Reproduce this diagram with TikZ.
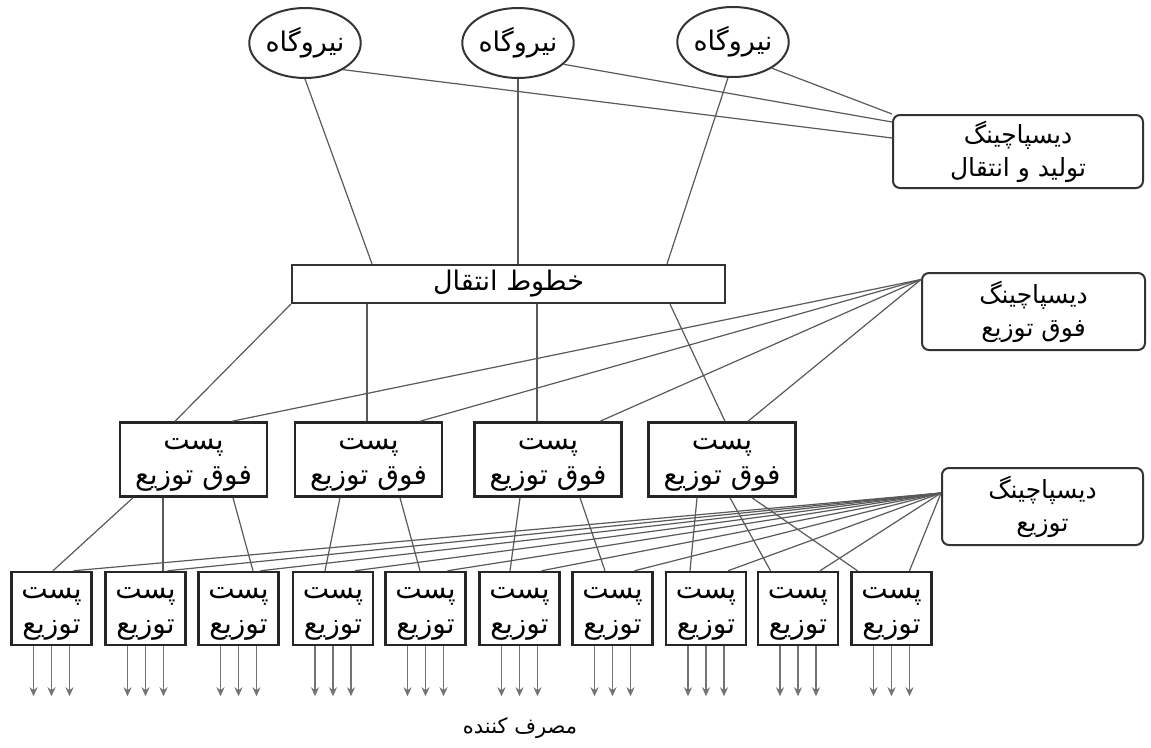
\documentclass[tikz,border=0pt]{standalone}
\usepackage{fontspec}
\newfontfamily\arabicfont[Script=Arabic]{DejaVu Sans}
\TeXXeTstate=1
\usetikzlibrary{arrows.meta,shapes.geometric}
\newcommand{\rtltext}[1]{\beginR #1\endR}
\newcommand{\twolines}[2]{\begin{tabular}{@{}c@{}}#1\\#2\end{tabular}}
\tikzset{
  plant/.style={ellipse, draw=black!80, line width=2pt, fill=white, minimum width=94pt, minimum height=70pt, inner sep=0pt, font=\arabicfont\fontsize{27}{30}\selectfont},
  dispatch/.style={rectangle, rounded corners=7pt, draw=black!80, line width=2pt, fill=white, align=center, inner sep=0pt, font=\arabicfont\fontsize{25}{33}\selectfont},
  trans/.style={rectangle, draw=black!80, line width=2.2pt, fill=white, minimum width=433pt, minimum height=38pt, inner sep=0pt, font=\arabicfont\fontsize{27}{30}\selectfont},
  hvsub/.style={rectangle, draw=black!85, line width=2.5pt, fill=white, minimum width=147pt, minimum height=74pt, inner sep=0pt, font=\arabicfont\fontsize{28}{35}\selectfont},
  dsub/.style={rectangle, draw=black!85, line width=2.5pt, fill=white, minimum width=80pt, minimum height=73pt, inner sep=0pt, font=\arabicfont\fontsize{28}{35}\selectfont},
  conn/.style={draw=black!65, line width=1.2pt},
  feed/.style={draw=black!55, line width=1.6pt, -{Stealth[length=9pt,width=8pt]}}
}
\begin{document}
\begin{tikzpicture}[x=1pt,y=-1pt]
\useasboundingbox (0,0) rectangle (1151,747);
% power plants
\node[plant] (pp1) at (305,43) {\rtltext{نیروگاه}};
\node[plant] (pp2) at (518,43) {\rtltext{نیروگاه}};
\node[plant] (pp3) at (733,42) {\rtltext{نیروگاه}};
% dispatching centres
\node[dispatch, minimum width=250pt, minimum height=73pt] (dsp1) at (1018,151.5) {\rtltext{دیسپاچینگ}\\\rtltext{تولید و انتقال}};
\node[dispatch, minimum width=223pt, minimum height=77pt] (dsp2) at (1033.5,311.5) {\rtltext{دیسپاچینگ}\\\rtltext{فوق توزیع}};
\node[dispatch, minimum width=201pt, minimum height=77pt] (dsp3) at (1042.5,506.5) {\rtltext{دیسپاچینگ}\\\rtltext{توزیع}};
% transmission lines
\node[trans] (tl) at (508.5,284) {\rtltext{خطوط انتقال}};
% sub-transmission substations
\node[hvsub] (ss1) at (193.5,459.5) {\twolines{\rtltext{پست}}{\rtltext{فوق توزیع}}};
\node[hvsub] (ss2) at (368.5,459.5) {\twolines{\rtltext{پست}}{\rtltext{فوق توزیع}}};
\node[hvsub] (ss3) at (548,459.5) {\twolines{\rtltext{پست}}{\rtltext{فوق توزیع}}};
\node[hvsub] (ss4) at (722,459.5) {\twolines{\rtltext{پست}}{\rtltext{فوق توزیع}}};
% distribution substations
\node[dsub] (d1) at (51.5,608.5) {\twolines{\rtltext{پست}}{\rtltext{توزیع}}};
\node[dsub] (d2) at (145.5,608.5) {\twolines{\rtltext{پست}}{\rtltext{توزیع}}};
\node[dsub] (d3) at (238.5,608.5) {\twolines{\rtltext{پست}}{\rtltext{توزیع}}};
\node[dsub] (d4) at (333,608.5) {\twolines{\rtltext{پست}}{\rtltext{توزیع}}};
\node[dsub] (d5) at (425.5,608.5) {\twolines{\rtltext{پست}}{\rtltext{توزیع}}};
\node[dsub] (d6) at (519.5,608.5) {\twolines{\rtltext{پست}}{\rtltext{توزیع}}};
\node[dsub] (d7) at (612.5,608.5) {\twolines{\rtltext{پست}}{\rtltext{توزیع}}};
\node[dsub] (d8) at (706,608.5) {\twolines{\rtltext{پست}}{\rtltext{توزیع}}};
\node[dsub] (d9) at (798,608.5) {\twolines{\rtltext{پست}}{\rtltext{توزیع}}};
\node[dsub] (d10) at (891.5,608.5) {\twolines{\rtltext{پست}}{\rtltext{توزیع}}};
\node[font=\arabicfont\fontsize{21}{24}\selectfont] (cons) at (520,728) {\rtltext{مصرف کننده}};
% plants to lines and dispatching
\draw[conn] (pp1.south) -- ([xshift=-136.5]tl.north);
\draw[conn] (pp2.south) -- (tl.north -| pp2.south);
\draw[conn] (pp3.262) -- ([xshift=158.5]tl.north);
\draw[conn] (pp1.-35) -- ([yshift=13.5]dsp1.west);
\draw[conn] (pp2.-25) -- ([yshift=29.5]dsp1.west);
\draw[conn] (pp3.-34) -- (dsp1.north west);
% lines to substations
\draw[conn] (tl.south west) -- ([xshift=-18.5]ss1.north);
\draw[conn] ([xshift=-141.5]tl.south) -- ([xshift=-1.5]ss2.north);
\draw[conn] ([xshift=28.5]tl.south) -- ([xshift=-11]ss3.north);
\draw[conn] ([xshift=161.5]tl.south) -- ([xshift=3]ss4.north);
\draw[conn] ([yshift=32]dsp2.west) -- ([xshift=38.5]ss1.north);
\draw[conn] ([yshift=32]dsp2.west) -- ([xshift=51.5]ss2.north);
\draw[conn] ([yshift=32]dsp2.west) -- ([xshift=52]ss3.north);
\draw[conn] ([yshift=32]dsp2.west) -- ([xshift=26]ss4.north);
% substations to distribution
\draw[conn] ([xshift=-60.5]ss1.south) -- ([xshift=1.5]d1.north);
\draw[conn] ([xshift=-30.5]ss1.south) -- ([xshift=17.5]d2.north);
\draw[conn] ([xshift=39.5]ss1.south) -- ([xshift=14.5]d3.north);
\draw[conn] ([xshift=-28.5]ss2.south) -- ([xshift=-8]d4.north);
\draw[conn] ([xshift=31.5]ss2.south) -- ([xshift=-5.5]d5.north);
\draw[conn] ([xshift=-28]ss3.south) -- ([xshift=-9.5]d6.north);
\draw[conn] ([xshift=32]ss3.south) -- ([xshift=-7.5]d7.north);
\draw[conn] ([xshift=-25]ss4.south) -- ([xshift=-16]d8.north);
\draw[conn] ([xshift=8]ss4.south) -- ([xshift=-27.5]d9.north);
\draw[conn] ([xshift=30]ss4.south) -- ([xshift=-34]d10.north);
% distribution dispatching
\draw[conn] ([yshift=13.5]dsp3.west) -- ([xshift=22]d1.north);
\draw[conn] ([yshift=13.5]dsp3.west) -- ([xshift=22]d2.north);
\draw[conn] ([yshift=13.5]dsp3.west) -- ([xshift=22]d3.north);
\draw[conn] ([yshift=13.5]dsp3.west) -- ([xshift=22]d4.north);
\draw[conn] ([yshift=13.5]dsp3.west) -- ([xshift=22]d5.north);
\draw[conn] ([yshift=13.5]dsp3.west) -- ([xshift=22]d6.north);
\draw[conn] ([yshift=13.5]dsp3.west) -- ([xshift=22]d7.north);
\draw[conn] ([yshift=13.5]dsp3.west) -- ([xshift=22]d8.north);
\draw[conn] ([yshift=13.5]dsp3.west) -- ([xshift=22]d9.north);
\draw[conn] ([yshift=13.5]dsp3.west) -- ([xshift=18]d10.north);
% feeders to consumers
\draw[feed] ([xshift=-18]d1.south) -- ++(0,50); \draw[feed] (d1.south) -- ++(0,50); \draw[feed] ([xshift=18]d1.south) -- ++(0,50);
\draw[feed] ([xshift=-18]d2.south) -- ++(0,50); \draw[feed] (d2.south) -- ++(0,50); \draw[feed] ([xshift=18]d2.south) -- ++(0,50);
\draw[feed] ([xshift=-18]d3.south) -- ++(0,50); \draw[feed] (d3.south) -- ++(0,50); \draw[feed] ([xshift=18]d3.south) -- ++(0,50);
\draw[feed] ([xshift=-18]d4.south) -- ++(0,50); \draw[feed] (d4.south) -- ++(0,50); \draw[feed] ([xshift=18]d4.south) -- ++(0,50);
\draw[feed] ([xshift=-18]d5.south) -- ++(0,50); \draw[feed] (d5.south) -- ++(0,50); \draw[feed] ([xshift=18]d5.south) -- ++(0,50);
\draw[feed] ([xshift=-18]d6.south) -- ++(0,50); \draw[feed] (d6.south) -- ++(0,50); \draw[feed] ([xshift=18]d6.south) -- ++(0,50);
\draw[feed] ([xshift=-18]d7.south) -- ++(0,50); \draw[feed] (d7.south) -- ++(0,50); \draw[feed] ([xshift=18]d7.south) -- ++(0,50);
\draw[feed] ([xshift=-18]d8.south) -- ++(0,50); \draw[feed] (d8.south) -- ++(0,50); \draw[feed] ([xshift=18]d8.south) -- ++(0,50);
\draw[feed] ([xshift=-18]d9.south) -- ++(0,50); \draw[feed] (d9.south) -- ++(0,50); \draw[feed] ([xshift=18]d9.south) -- ++(0,50);
\draw[feed] ([xshift=-18]d10.south) -- ++(0,50); \draw[feed] (d10.south) -- ++(0,50); \draw[feed] ([xshift=18]d10.south) -- ++(0,50);
\end{tikzpicture}
\end{document}
